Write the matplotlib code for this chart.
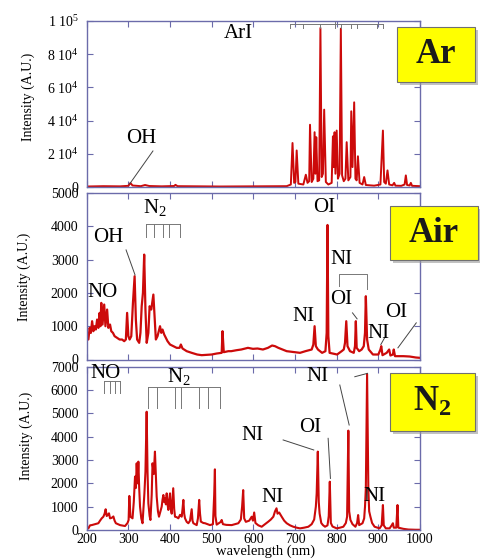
import numpy as np
import matplotlib
matplotlib.use("Agg")
import matplotlib.pyplot as plt
from matplotlib.patches import Rectangle

plt.rcParams['font.family'] = ['Liberation Serif', 'DejaVu Serif']
plt.rcParams['mathtext.fontset'] = 'stix'

# ---- spectra (wavelength nm, intensity a.u.) ----
ar_wl = [200, 240, 280, 300, 305, 310, 330, 340, 350, 380, 410, 413, 418, 470, 520, 600, 680,
         690, 694, 698, 701, 704, 708, 720, 726, 730, 734, 736, 740, 744, 747, 749, 751, 754,
         758, 761, 764, 767, 770, 774, 780, 788, 791, 793, 795, 797, 800, 803, 807, 810, 813,
         817, 821, 824, 828, 833, 835, 838, 842, 845, 848, 851, 855, 862, 866, 870, 890, 905,
         911, 914, 918, 922, 926, 934, 938, 941, 955, 963, 966, 969, 975, 978, 981, 1000]
ar_int = [300, 500, 400, 700, 2400, 900, 500, 1200, 600, 400, 600, 1300, 500, 400, 300, 400, 500,
          1500, 26500, 2500, 3000, 22000, 2000, 1500, 7400, 2500, 3500, 37500, 3000, 5000, 33000, 8000, 30000, 3500,
          4000, 95800, 6000, 8000, 46600, 3000, 1500, 2500, 30500, 12000, 33000, 8000, 34000, 5000, 8000, 95400, 7000,
          3500, 5000, 27000, 4000, 6000, 45600, 12000, 51000, 5000, 4000, 18500, 2500, 1500, 6000, 1200, 800, 1500,
          34000, 3000, 2000, 10000, 1500, 1000, 2500, 800, 700, 1500, 7000, 1200, 900, 2500, 700, 500]

air_wl = [200, 204, 207, 210, 213, 216, 219, 222, 225, 228, 231, 233, 235, 238, 242, 245, 249, 252,
          256, 259, 263, 267, 273, 279, 285, 290, 294, 297, 300, 303, 307, 311, 315, 318, 321, 326,
          329, 332, 335, 338, 341, 344, 348, 351, 355, 360, 363, 366, 370, 373, 376, 379, 382, 386,
          390, 394, 400, 408, 416, 423, 426, 430, 440, 452, 465, 476, 490, 500, 512, 524, 526, 529,
          540, 547, 560, 571, 587, 599, 610, 623, 635, 645, 652, 660, 680, 700, 712, 725, 740, 744,
          747, 750, 755, 765, 773, 776, 778, 780, 783, 790, 801, 812, 817, 820, 823, 826, 832, 841,
          844, 846, 848, 854, 860, 865, 868, 870, 873, 877, 887, 900, 905, 907, 910, 920, 926, 929,
          935, 937, 940, 960, 975, 990, 1000]
air_int = [750, 600, 950, 800, 1150, 850, 1000, 900, 1200, 950, 1400, 1000, 1700, 1050, 1650, 1000, 1500, 950,
           1050, 850, 800, 700, 650, 600, 600, 550, 600, 1400, 700, 600, 700, 1700, 2500, 1200, 600, 500,
           800, 1600, 2000, 3150, 1500, 500, 800, 1600, 1500, 1950, 1300, 600, 700, 850, 1000, 800, 900, 750,
           650, 550, 450, 400, 350, 350, 450, 330, 250, 200, 150, 130, 140, 150, 180, 200, 850, 220,
           250, 250, 280, 300, 350, 320, 330, 300, 350, 420, 400, 350, 250, 220, 200, 250, 300, 450,
           1000, 400, 300, 200, 250, 800, 4040, 700, 200, 180, 150, 250, 300, 500, 1150, 400, 250, 200,
           400, 1150, 350, 250, 300, 400, 800, 1900, 600, 300, 150, 150, 300, 400, 130, 200, 300, 120,
           150, 300, 100, 100, 90, 60, 50]

n2_wl = [200, 204, 208, 212, 220, 228, 232, 236, 240, 243, 245.5, 248, 250, 253.5, 256, 260, 264, 267,
         270, 280, 292, 298, 300.6, 302.3, 305, 310, 313, 316, 318, 320, 322, 324, 326, 328, 331, 334,
         338.5, 341, 343.9, 346, 348, 351, 353, 356, 358, 361, 363.8, 366, 368, 371, 373.5, 377, 380,
         382, 384, 386, 388, 390, 392, 394, 396, 398, 400, 402, 404, 407.7, 410, 412, 416, 420, 424,
         428, 430, 432, 434, 436, 440, 444, 448, 452, 454, 456, 460, 464, 467, 470, 472, 474, 480,
         484, 490, 496, 503, 506, 507.7, 509, 512, 518, 522, 524, 527, 535, 548, 556, 564, 570, 573,
         575.6, 578, 582, 590, 596, 599, 602, 605, 612, 620, 628, 636, 642, 648, 652, 655.6, 658, 662,
         668, 674, 680, 688, 696, 704, 712, 722, 732, 740, 746, 750, 752, 754.7, 757, 759, 763, 767,
         772, 778, 781, 783.5, 786, 790, 800, 808, 816, 822, 825, 828, 830, 833, 838, 845, 849, 851.5,
         854, 858, 862, 866, 868, 870, 873, 876, 878, 881, 885, 891, 903, 908, 911, 913, 918, 927,
         932, 935, 937, 943, 946, 948, 960, 972, 990, 1000]
n2_int = [70, 70, 200, 210, 250, 290, 400, 500, 570, 700, 890, 600, 630, 715, 500, 520, 580, 400,
          290, 210, 170, 300, 430, 1460, 570, 500, 1200, 2290, 1800, 2860, 2000, 2930, 1800, 1000, 500, 290,
          1570, 2500, 5070, 2500, 1140, 600, 430, 1500, 2860, 2400, 3360, 2300, 1430, 800, 570, 800, 1000,
          1300, 1500, 1200, 1360, 1100, 1570, 1100, 860, 1300, 1570, 900, 700, 1790, 900, 570, 550, 500, 650,
          570, 900, 1290, 700, 500, 350, 290, 400, 890, 400, 290, 250, 210, 500, 1290, 700, 360, 300,
          290, 250, 210, 250, 1500, 2600, 600, 230, 300, 350, 430, 250, 220, 210, 250, 290, 450, 1000,
          1710, 500, 350, 400, 570, 400, 750, 300, 200, 140, 250, 360, 450, 570, 800, 930, 700, 750,
          570, 400, 290, 200, 140, 100, 70, 100, 140, 250, 450, 1000, 1570, 3360, 1200, 710, 300, 210,
          140, 200, 600, 2070, 300, 150, 70, 100, 140, 300, 570, 4260, 800, 430, 250, 140, 300, 640,
          210, 250, 290, 500, 1000, 1790, 6690, 1790, 800, 570, 300, 140, 70, 200, 1070, 200, 70, 70,
          200, 290, 100, 100, 1070, 100, 50, 20, 10, 10]

x_ticks = [200, 300, 400, 500, 600, 700, 800, 900, 1000]
ar_yticks = [0, 20000, 40000, 60000, 80000, 100000]
ar_ylabels = ['0', r'$\mathregular{2\ 10^4}$', r'$\mathregular{4\ 10^4}$', r'$\mathregular{6\ 10^4}$',
              r'$\mathregular{8\ 10^4}$', r'$\mathregular{1\ 10^5}$']

W, H = 480, 559
spine_col = '#6b6baa'
red = '#cc0a0a'
lead = '#444444'
brk = '#777777'


def rect(l, t, r, b):
    return [l / W, 1 - b / H, (r - l) / W, (b - t) / H]


fig = plt.figure(figsize=(W / 100, H / 100), dpi=100)
ax1 = fig.add_axes(rect(86.7, 21, 420, 187))
ax2 = fig.add_axes(rect(86.7, 193, 420, 359.5))
ax3 = fig.add_axes(rect(86.7, 366.7, 420, 530))

for ax in (ax1, ax2, ax3):
    ax.set_facecolor('none')
    ax.set_xlim(200, 1000)
    ax.set_xticks(x_ticks)
    for s in ax.spines.values():
        s.set_color(spine_col)
        s.set_linewidth(1.0)
    ax.tick_params(direction='in', top=True, right=True, length=4, width=0.8,
                   color=spine_col, labelsize=10, pad=6)
    ax.tick_params(axis='x', pad=2)

ax1.plot(ar_wl, ar_int, color=red, lw=1.4)
ax1.set_ylim(0, 100000)
ax1.set_yticks(ar_yticks)
ax1.set_yticklabels(ar_ylabels)
ax1.tick_params(labelbottom=False)

ax2.plot(air_wl, air_int, color=red, lw=1.6)
ax2.set_ylim(0, 5000)
ax2.set_yticks(range(0, 5001, 1000))
ax2.tick_params(labelbottom=False)

ax3.plot(n2_wl, n2_int, color=red, lw=1.5)
ax3.set_ylim(0, 7000)
ax3.set_yticks(range(0, 7001, 1000))
ax3.set_xlabel('wavelength (nm)', fontsize=10.5)
ax3.xaxis.set_label_coords(0.537, -0.09)

for ypx, xpx in ((97, 28), (277, 24), (436, 26)):
    fig.text(xpx / W, 1 - ypx / H, 'Intensity (A.U.)', rotation=90, ha='center', va='center', fontsize=10)

fs = 15


def lab(ax, x, y, s, **kw):
    kw.setdefault('ha', 'center')
    kw.setdefault('va', 'center')
    ax.text(x, y, s, fontsize=fs, **kw)


def seg(ax, xs, ys, c=lead, lw=0.7):
    ax.plot(xs, ys, color=c, lw=lw, clip_on=False)


# Ar panel
lab(ax1, 330, 29500, 'OH')
seg(ax1, [359, 303], [21700, 1800])
lab(ax1, 563, 92200, 'ArI')
seg(ax1, [688, 910], [98000, 98000], brk)
for t in [688, 720, 760, 811, 834, 849, 897, 910]:
    seg(ax1, [t, t], [98000, 95800], brk)
seg(ax1, [797, 797], [100000, 95800], brk)

# Air panel
lab(ax2, 335, 4390, r'$\mathregular{N_2}$', ha='left', va='baseline')
seg(ax2, [341.5, 425], [4060, 4060], brk)
for t in [341.5, 361.4, 382, 398, 425]:
    seg(ax2, [t, t], [4060, 3670], brk)
lab(ax2, 252, 3660, 'OH')
seg(ax2, [294.5, 316], [3290, 2540])
lab(ax2, 237, 2000, 'NO')
lab(ax2, 769, 4550, 'OI')
lab(ax2, 811.5, 2990, 'NI')
seg(ax2, [806, 806, 873, 873], [2215, 2575, 2575, 2120], brk)
lab(ax2, 810, 1815, 'OI')
seg(ax2, [838, 849], [1400, 1220])
lab(ax2, 721, 1300, 'NI')
lab(ax2, 901, 770, 'NI')
seg(ax2, [906, 915], [450, 650])
lab(ax2, 942, 1420, 'OI')
seg(ax2, [991, 947], [1100, 350])

# N2 panel
lab(ax3, 245, 6716, 'NO')
seg(ax3, [242, 280], [6390, 6390], brk)
for t in [242, 256, 268, 280]:
    seg(ax3, [t, t], [6390, 5860], brk)
lab(ax3, 393, 6340, r'$\mathregular{N_2}$', ha='left', va='baseline')
seg(ax3, [347.7, 519.7], [6115, 6115], brk)
for t in [347.7, 369.3, 411.8, 425.4, 470, 491.6, 519.7]:
    seg(ax3, [t, t], [6115, 5215], brk)
lab(ax3, 597.6, 4070, 'NI')
seg(ax3, [671.5, 745], [3860, 3430])
lab(ax3, 736.7, 4390, 'OI')
seg(ax3, [779.5, 785], [3930, 2210])
lab(ax3, 754.7, 6570, 'NI')
seg(ax3, [807.5, 830], [6215, 4500])
seg(ax3, [843.5, 874], [6570, 6715])
lab(ax3, 645.6, 1385, 'NI')
lab(ax3, 891.5, 1430, 'NI')

# yellow gas boxes
for (l, t, r, b, s) in ((397, 27, 475, 82, 'Ar'), (390, 206, 478, 260, 'Air'),
                        (390, 373, 475, 431, r'$\mathregular{N_2}$')):
    fig.add_artist(Rectangle(((l + 3) / W, 1 - (b + 3) / H), (r - l) / W, (b - t) / H,
                             transform=fig.transFigure, facecolor='#9a9a9a', edgecolor='none',
                             alpha=0.6, zorder=5))
    fig.add_artist(Rectangle((l / W, 1 - b / H), (r - l) / W, (b - t) / H,
                             transform=fig.transFigure, facecolor='#ffff00', edgecolor='#707070',
                             lw=0.8, zorder=6))
    fig.text((l + r) / 2 / W, 1 - (t + b) / 2 / H, s, ha='center', va='center',
             fontsize=25, fontweight='bold', color='#1a1a1a', zorder=7)

fig.savefig('out.png', dpi=100)
